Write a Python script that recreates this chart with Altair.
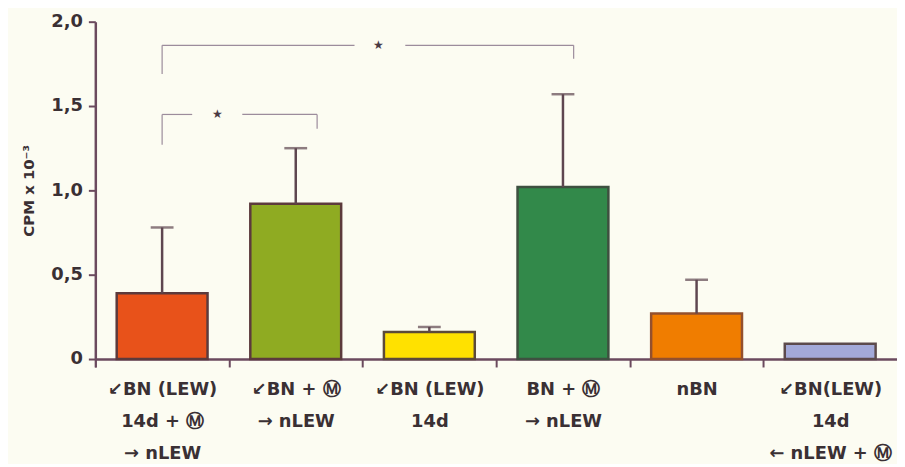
import altair as alt
import pandas as pd

# ---- data ----
categories = [
    "↙BN (LEW)|14d + Ⓜ|→ nLEW",
    "↙BN + Ⓜ|→ nLEW",
    "↙BN (LEW)|14d",
    "BN + Ⓜ|→ nLEW",
    "nBN",
    "↙BN(LEW)|14d|← nLEW + Ⓜ",
]
means = [0.39, 0.92, 0.16, 1.02, 0.27, 0.09]
errors = [0.39, 0.33, 0.03, 0.55, 0.20, 0.0]
fills = ["#e8521a", "#8fab22", "#ffe100", "#32894a", "#f07d00", "#a3a9d8"]
strokes = ["#5c3a3c", "#5c3a3c", "#5c4a3a", "#3e5040", "#93502e", "#5c4a4c"]

y_ticks = [0, 0.5, 1.0, 1.5, 2.0]

# significance brackets (x in band units: bar i centre = i + 0.5)
br_x = [0.50, 2.32, 0.50, 3.58, 0.50, 1.10, 0.50, 1.66]
br_x2 = [1.94, 3.58, 0.50, 3.58, 0.725, 1.66, 0.50, 1.66]
br_y = [1.86, 1.86, 1.86, 1.86, 1.45, 1.45, 1.45, 1.45]
br_y2 = [1.86, 1.86, 1.69, 1.78, 1.45, 1.45, 1.27, 1.365]
star_x = [2.12, 0.917]
star_y = [1.86, 1.45]

AX = "#6b4a5e"
TXT = "#3a3034"
FONT = "DejaVu Sans"
WIDTH = 808
PAD_INNER = 0.32
STEP = WIDTH / len(categories)

df = pd.DataFrame({
    "cat": categories,
    "mean": means,
    "err": errors,
    "fill": fills,
    "stroke": strokes,
})
df["upper"] = df["mean"] + df["err"]
df_err = df[df["err"] > 0]

br = pd.DataFrame({"x": br_x, "x2": br_x2, "y": br_y, "y2": br_y2})
stars = pd.DataFrame({"x": star_x, "y": star_y, "t": ["★", "★"]})

xenc = alt.X(
    "cat:N",
    sort=categories,
    scale=alt.Scale(paddingInner=PAD_INNER, paddingOuter=PAD_INNER / 2),
    axis=alt.Axis(
        title=None,
        labelAngle=0,
        labelExpr="split(datum.label, '|')",
        labelFontSize=18,
        labelFontWeight="bold",
        labelFont=FONT,
        labelColor=TXT,
        labelLineHeight=32,
        labelPadding=14,
        labelOffset=PAD_INNER * STEP / 2,
        ticks=True,
        bandPosition=0,
        tickOffset=-PAD_INNER * STEP / 2,
        tickExtra=True,
        tickSize=8,
        tickWidth=2,
        tickColor=AX,
        domainColor=AX,
        domainWidth=2.5,
    ),
)
yscale = alt.Scale(domain=[0, 2], nice=False)
yaxis = alt.Axis(
    values=y_ticks,
    grid=False,
    labelExpr="datum.value == 0 ? '0' : replace(format(datum.value, '.1f'), '.', ',')",
    labelFontSize=18,
    labelFontWeight="bold",
    labelFont=FONT,
    labelColor=TXT,
    labelPadding=6,
    tickSize=7,
    tickWidth=2,
    tickColor=AX,
    domainColor=AX,
    domainWidth=2.5,
    title="CPM x 10⁻³",
    titleFontSize=15,
    titleFont=FONT,
    titleFontWeight="bold",
    titleColor=TXT,
    titlePadding=14,
)

bars = alt.Chart(df).mark_bar(strokeWidth=2.5).encode(
    x=xenc,
    y=alt.Y("mean:Q", scale=yscale, axis=yaxis),
    fill=alt.Fill("fill:N", scale=None),
    stroke=alt.Stroke("stroke:N", scale=None),
)
err_rule = alt.Chart(df_err).mark_rule(strokeWidth=2.5, color="#5e4650").encode(
    x=alt.X("cat:N", sort=categories),
    y=alt.Y("mean:Q", scale=yscale),
    y2="upper:Q",
)
caps = alt.Chart(df_err).mark_tick(thickness=2.5, size=23, color="#5e4650").encode(
    x=alt.X("cat:N", sort=categories),
    y=alt.Y("upper:Q", scale=yscale),
)

main = alt.layer(bars, err_rule, caps)

xq = alt.Scale(domain=[0, 6], nice=False, zero=False)
brackets = alt.Chart(br).mark_rule(strokeWidth=1.2, color="#9c8c9c").encode(
    x=alt.X("x:Q", scale=xq, axis=None),
    x2="x2:Q",
    y=alt.Y("y:Q", scale=yscale),
    y2="y2:Q",
)
star_marks = alt.Chart(stars).mark_text(fontSize=12, color="#4a3a44").encode(
    x=alt.X("x:Q", scale=xq, axis=None),
    y=alt.Y("y:Q", scale=yscale),
    text="t:N",
)
ann = alt.layer(brackets, star_marks)

chart = alt.layer(main, ann).resolve_scale(x="independent").properties(
    width=WIDTH,
    height=340,
    autosize=alt.AutoSizeParams(type="none"),
    padding={"left": 88, "top": 12, "right": 0, "bottom": 104},
    background="#fcfcf2",
).configure_view(stroke=None)

chart.save("out.html", embed_options={"renderer": "svg", "actions": False})
